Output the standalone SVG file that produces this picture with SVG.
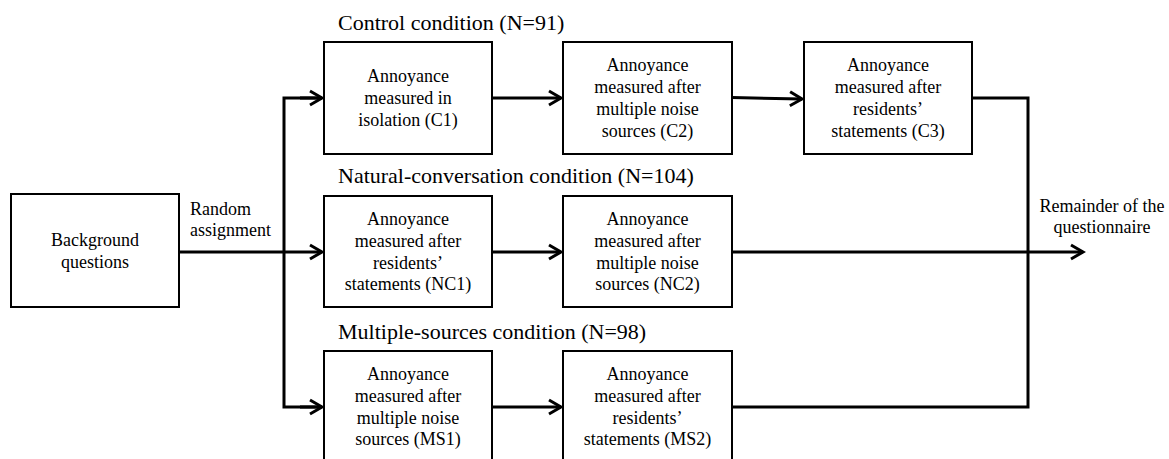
<svg xmlns="http://www.w3.org/2000/svg" width="1169" height="459" viewBox="0 0 1169 459" font-family="Liberation Serif, DejaVu Serif, serif">
<defs>
<marker id="arr" markerUnits="userSpaceOnUse" markerWidth="20" markerHeight="20" viewBox="-16 -10 20 20" refX="0" refY="0" orient="auto" overflow="visible">
<path d="M-12,-7 L0,0 L-12,7" fill="none" stroke="#000" stroke-width="3" stroke-linejoin="miter"/>
</marker>
</defs>
<style>
.box{fill:#fff;stroke:#000;stroke-width:2}
.t{font-size:18px;fill:#000;text-anchor:middle}
.tl{font-size:18px;fill:#000}
.h{font-size:22px;fill:#000}
.c{fill:none;stroke:#000;stroke-width:3;stroke-linejoin:miter}
</style>
<rect width="1169" height="459" fill="#fff"/>
<g id="connectors">
<path class="c" d="M179,252 L322,252" marker-end="url(#arr)"/>
<path class="c" d="M322,98 L284,98 L284,407 L322,407"/>
<path class="c" d="M300,98 L322,98" marker-end="url(#arr)"/>
<path class="c" d="M300,407 L322,407" marker-end="url(#arr)"/>
<path class="c" d="M492,98 L561,98" marker-end="url(#arr)"/>
<path class="c" d="M732,97.5 L802,99" marker-end="url(#arr)"/>
<path class="c" d="M972,98 L1028,98 L1028,407 L732,407"/>
<path class="c" d="M492,252 L561,252" marker-end="url(#arr)"/>
<path class="c" d="M732,252 L1083,252" marker-end="url(#arr)"/>
<path class="c" d="M492,407 L561,407" marker-end="url(#arr)"/>
</g>
<g id="titles">
<text class="h" x="338" y="30">Control condition (N=91)</text>
<text class="h" x="338" y="183">Natural-conversation condition (N=104)</text>
<text class="h" x="338" y="339">Multiple-sources condition (N=98)</text>
</g>
<g id="labels">
<text class="tl" x="190" y="215">Random</text>
<text class="tl" x="190" y="236">assignment</text>
<text class="t" x="1102" y="212">Remainder of the</text>
<text class="t" x="1102" y="233">questionnaire</text>
</g>
<g id="background">
<rect class="box" x="11" y="194" width="168" height="113"/>
<text class="t" x="95" y="246">Background</text>
<text class="t" x="95" y="268">questions</text>
</g>
<g id="C1">
<rect class="box" x="324" y="42" width="168" height="112"/>
<text class="t" x="408" y="82">Annoyance</text>
<text class="t" x="408" y="104">measured in</text>
<text class="t" x="408" y="126">isolation (C1)</text>
</g>
<g id="C2">
<rect class="box" x="563" y="42" width="169" height="112"/>
<text class="t" x="647.5" y="71">Annoyance</text>
<text class="t" x="647.5" y="93">measured after</text>
<text class="t" x="647.5" y="115">multiple noise</text>
<text class="t" x="647.5" y="137">sources (C2)</text>
</g>
<g id="C3">
<rect class="box" x="804" y="42" width="168" height="112"/>
<text class="t" x="888" y="71">Annoyance</text>
<text class="t" x="888" y="93">measured after</text>
<text class="t" x="888" y="115">residents’</text>
<text class="t" x="888" y="137">statements (C3)</text>
</g>
<g id="NC1">
<rect class="box" x="324" y="196" width="168" height="111"/>
<text class="t" x="408" y="225">Annoyance</text>
<text class="t" x="408" y="247">measured after</text>
<text class="t" x="408" y="269">residents’</text>
<text class="t" x="408" y="290">statements (NC1)</text>
</g>
<g id="NC2">
<rect class="box" x="563" y="196" width="169" height="111"/>
<text class="t" x="647.5" y="225">Annoyance</text>
<text class="t" x="647.5" y="247">measured after</text>
<text class="t" x="647.5" y="269">multiple noise</text>
<text class="t" x="647.5" y="290">sources (NC2)</text>
</g>
<g id="MS1">
<rect class="box" x="324" y="351" width="168" height="112"/>
<text class="t" x="408" y="380">Annoyance</text>
<text class="t" x="408" y="402">measured after</text>
<text class="t" x="408" y="424">multiple noise</text>
<text class="t" x="408" y="445">sources (MS1)</text>
</g>
<g id="MS2">
<rect class="box" x="563" y="351" width="169" height="112"/>
<text class="t" x="647.5" y="380">Annoyance</text>
<text class="t" x="647.5" y="402">measured after</text>
<text class="t" x="647.5" y="424">residents’</text>
<text class="t" x="647.5" y="445">statements (MS2)</text>
</g>
</svg>
